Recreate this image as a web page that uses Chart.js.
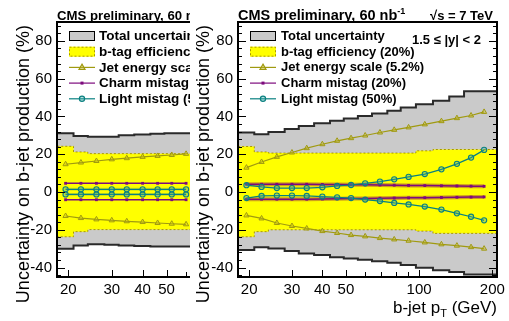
<!DOCTYPE html>
<html><head><meta charset="utf-8">
<script src="https://cdn.jsdelivr.net/npm/chart.js@4.4.0/dist/chart.umd.min.js"></script>
<style>
html,body{margin:0;padding:0;background:#fff;width:509px;height:321px;overflow:hidden}
#wrapL{position:absolute;left:0;top:0;width:200px;height:321px;background:#fff}
#wrapR{position:absolute;left:190px;top:0;width:319px;height:321px;background:#fff}
canvas{display:block}
</style></head><body>
<div id="wrapL"><canvas id="cL" width="200" height="321"></canvas></div>
<div id="wrapR"><canvas id="cR" width="319" height="321"></canvas></div>
<script>
// ---- data ----
const binEdges   = [18,21,24,28,32,37,43,49,56,64,74,84,97,114,133,153,174,220];
const binCenters = [19.5,22.5,26,30,34.5,40,46,52.5,60,69,79,90.5,105.5,123.5,143,163.5,185];
const yTicks = [-40,-20,0,20,40,60,80];
const xTicksLeft  = [20,30,40,50];
const xTicksRight = [20,30,40,50,100,200];
const xTickMarks  = [20,30,40,50,60,70,80,90,100,200];
const legendLabels = ['Total uncertainty','b-tag efficiency (20%)','Jet energy scale (5.2%)','Charm mistag (20%)','Light mistag (50%)'];

// left panel (first 9 bins)
const totalUpL   = [34.2,31.1,29.7,29.2,29.3,30.0,30.4,30.8,31.1];
const totalDownL = [-33.0,-30.0,-28.3,-27.7,-27.9,-28.3,-28.6,-28.8,-28.8];
const btagUpL    = [28.3,24.2,21.2,20.3,20.3,20.3,20.3,20.3,20.3];
const btagDownL  = [-28.1,-23.7,-21.0,-19.9,-19.9,-19.9,-19.9,-19.9,-19.9];
const jesUpL     = [14.7,15.6,16.4,17.3,17.9,18.6,19.1,19.6,20.2];
const jesDownL   = [-12.7,-13.8,-14.5,-15.0,-15.5,-15.9,-16.4,-16.8,-17.1];
const charmUpL   = [4.6,4.6,4.6,4.6,4.6,4.6,4.6,4.6,4.6];
const charmDownL = [-4.1,-4.1,-4.1,-4.1,-4.1,-4.1,-4.1,-4.1,-4.1];
const lightUpL   = [1.4,1.4,1.4,1.4,1.4,1.4,1.4,1.4,1.4];
const lightDownL = [-1.3,-1.3,-1.3,-1.3,-1.3,-1.3,-1.3,-1.3,-1.3];

// right panel (17 bins)
const totalUpR   = [33.6,31.5,30.6,31.8,33.3,35.0,36.4,37.7,38.9,40.3,41.6,43.0,44.8,46.5,48.3,50.6,53.3];
const totalDownR = [-33.0,-30.7,-29.2,-29.9,-31.3,-32.5,-33.4,-34.5,-35.2,-35.9,-36.6,-37.5,-38.7,-40.1,-41.4,-42.4,-43.7];
const btagUpR    = [28.3,24.1,21.2,20.6,20.6,20.6,20.6,20.6,20.6,20.6,20.6,20.6,20.6,21.8,22.5,22.5,22.5];
const btagDownR  = [-28.1,-23.7,-21.0,-20.0,-20.0,-20.0,-20.0,-20.0,-20.0,-20.0,-20.0,-20.0,-20.0,-20.7,-21.9,-21.9,-21.9];
const jesUpR     = [12.9,15.9,18.6,20.9,23.2,25.3,27.1,28.5,29.9,31.5,32.9,34.2,35.8,37.5,39.1,40.5,42.4];
const jesDownR   = [-12.4,-14.0,-16.4,-18.0,-19.3,-20.7,-21.7,-22.8,-23.5,-24.4,-25.1,-25.8,-26.7,-27.7,-28.4,-29.2,-30.0];
const charmUpR   = [4.1,4.1,4.1,4.1,4.1,4.0,4.0,3.9,3.8,3.7,3.6,3.5,3.4,3.3,3.2,3.1,3.0];
const charmDownR = [-3.8,-3.8,-3.8,-3.8,-3.8,-3.7,-3.6,-3.5,-3.4,-3.3,-3.2,-3.1,-3.0,-2.9,-2.8,-2.7,-2.6];
const lightUpR   = [3.6,2.7,2.1,2.1,2.1,2.5,3.2,3.7,4.6,5.5,6.7,8.0,9.5,12.0,14.9,18.2,22.3];
const lightDownR = [-3.2,-2.1,-1.9,-1.9,-2.1,-2.4,-2.8,-3.2,-4.0,-4.8,-5.8,-6.6,-7.7,-9.3,-11.3,-13.1,-15.0];

// ---- styles ----
const GRAY='#cacaca', YEL='#ffff00', YELB='#a89800', OLIVE='#a09a10', PURP='#7d0a7d', TEAL='#0a8080';
const FONT='"Liberation Sans", Arial, Helvetica, sans-serif';

function stepPts(vals){
  const p = vals.map((v,i)=>({x:binEdges[i], y:v}));
  p.push({x:binEdges[vals.length], y:vals[vals.length-1]});
  return p;
}
function ptPts(vals){ return vals.map((v,i)=>({x:binCenters[i], y:v})); }

function buildDatasets(d){
  const base = {pointRadius:0, tension:0, spanGaps:true};
  const ds = [
    {...base, data:stepPts(d.totalUp), stepped:'after', borderColor:'#2a2a2a', borderWidth:2, backgroundColor:GRAY, fill:'+1', order:20},
    {...base, data:stepPts(d.totalDown), stepped:'after', borderColor:'#2a2a2a', borderWidth:2, fill:false, order:19},
    {...base, data:stepPts(d.btagUp), stepped:'after', borderColor:YELB, borderWidth:1, borderDash:[2,2], backgroundColor:YEL, fill:'+1', order:18},
    {...base, data:stepPts(d.btagDown), stepped:'after', borderColor:YELB, borderWidth:1, borderDash:[2,2], fill:false, order:17},
  ];
  const jes = {pointStyle:'triangle', pointRadius:3, pointBorderWidth:1, borderColor:OLIVE, pointBorderColor:OLIVE, pointBackgroundColor:'rgba(200,190,40,0.35)', borderWidth:1.2, fill:false, order:10};
  ds.push({...jes, data:ptPts(d.jesUp)}, {...jes, data:ptPts(d.jesDown)});
  if (d.charmHalo){
    const h = {pointRadius:0, borderColor:'rgba(185,120,40,0.7)', borderWidth:4, fill:false, order:8};
    ds.push({...h, data:ptPts(d.charmUp)}, {...h, data:ptPts(d.charmDown)});
  }
  if (d.lightHalo){
    const h = {pointRadius:0, borderColor:'rgba(120,180,60,0.35)', borderWidth:3, fill:false, order:8};
    ds.push({...h, data:ptPts(d.lightUp)}, {...h, data:ptPts(d.lightDown)});
  }
  const ch = {pointStyle:'rect', pointRadius:2, pointBorderWidth:0, borderColor:PURP, pointBackgroundColor:PURP, borderWidth:1.5, fill:false, order:6};
  ds.push({...ch, data:ptPts(d.charmUp)}, {...ch, data:ptPts(d.charmDown)});
  const li = {pointStyle:'circle', pointRadius:2.6, pointBorderWidth:1.1, borderColor:TEAL, pointBorderColor:TEAL, pointBackgroundColor:'rgba(60,170,170,0.35)', borderWidth:1.2, fill:false, order:4};
  ds.push({...li, data:ptPts(d.lightUp)}, {...li, data:ptPts(d.lightDown)});
  return ds;
}

function drawText(ctx, parts, x, y, align){
  let w = 0;
  parts.forEach(p=>{ctx.font=p.font; w+=ctx.measureText(p.t).width;});
  let cx = align==='right' ? x-w : x;
  parts.forEach(p=>{ctx.font=p.font; ctx.textAlign='left'; ctx.fillText(p.t, cx, y+(p.dy||0)); cx+=ctx.measureText(p.t).width;});
}

const deco = {
  id:'deco',
  afterDatasetsDraw(chart, args, o){
    const {ctx, chartArea:a, scales:{x,y}} = chart;
    ctx.save();
    ctx.strokeStyle='#000'; ctx.lineWidth=1;
    ctx.beginPath();
    for (let v=-44; v<=88; v+=4){
      const py = Math.round(y.getPixelForValue(v))+0.5;
      const len = (v%20===0)?8:4;
      ctx.moveTo(a.left,py); ctx.lineTo(a.left+len,py);
      if (o.rightTicks){ ctx.moveTo(a.right,py); ctx.lineTo(a.right-len,py); }
    }
    xTickMarks.forEach(v=>{
      const px = Math.round(x.getPixelForValue(v))+0.5;
      const len = o.xLabels.includes(v)?7:5;
      ctx.moveTo(px,a.bottom); ctx.lineTo(px,a.bottom-len);
    });
    ctx.stroke();
    ctx.lineWidth=2;
    ctx.strokeRect(a.left, a.top, a.right-a.left, a.bottom-a.top);
    ctx.restore();
  },
  afterDraw(chart, args, o){
    const {ctx, chartArea:a} = chart;
    const ts = o.titleSize, ls = o.legendSize;
    ctx.save();
    ctx.fillStyle='#000'; ctx.textBaseline='alphabetic';
    drawText(ctx,[{t:'CMS preliminary, 60 nb',font:'bold '+ts+'px '+FONT},{t:'-1',font:'bold 9px '+FONT,dy:-6}], a.left, 19.5,'left');
    if (o.extra){
      drawText(ctx,[{t:'\u221As = 7 TeV',font:'bold 13px '+FONT}], a.right-4, 19.5,'right');
      drawText(ctx,[{t:'1.5 \u2264 |y| < 2',font:'bold 13px '+FONT}], a.right-16, 44,'right');
      drawText(ctx,[{t:'b-jet p',font:'17px '+FONT},{t:'T',font:'11px '+FONT,dy:4},{t:' (GeV)',font:'17px '+FONT}], a.right, 313,'right');
    }
    ctx.save();
    ctx.translate(o.yTitleX, 25);
    ctx.rotate(-Math.PI/2);
    ctx.font='18px '+FONT; ctx.textAlign='right';
    ctx.fillText('Uncertainty on b-jet production (%)',0,0);
    ctx.restore();
    const bx0=a.left+12, bx1=a.left+38, tx=a.left+o.textOff;
    const rows=[36,51.7,67.4,83.1,98.8];
    ctx.font='bold '+ls+'px '+FONT; ctx.textBaseline='middle'; ctx.textAlign='left';
    legendLabels.forEach((lab,i)=>{
      const ry=rows[i];
      ctx.fillStyle='#000'; ctx.fillText(lab, tx, ry+0.5);
      ctx.save();
      if (i===0){
        ctx.fillStyle=GRAY; ctx.fillRect(bx0,ry-5,bx1-bx0,10);
        ctx.strokeStyle='#000'; ctx.lineWidth=1; ctx.strokeRect(bx0+0.5,ry-4.5,bx1-bx0-1,9);
      } else if (i===1){
        ctx.fillStyle=YEL; ctx.fillRect(bx0,ry-5,bx1-bx0,10);
        ctx.strokeStyle=YELB; ctx.setLineDash([2,2]); ctx.lineWidth=1; ctx.strokeRect(bx0+0.5,ry-4.5,bx1-bx0-1,9);
      } else {
        const col=[OLIVE,PURP,TEAL][i-2];
        ctx.strokeStyle=col; ctx.lineWidth=1.2;
        ctx.beginPath(); ctx.moveTo(bx0,ry); ctx.lineTo(bx1,ry); ctx.stroke();
        const mx=(bx0+bx1)/2;
        if (i===2){
          ctx.beginPath(); ctx.moveTo(mx,ry-3.3); ctx.lineTo(mx+3,ry+2); ctx.lineTo(mx-3,ry+2); ctx.closePath();
          ctx.fillStyle='rgba(200,190,40,0.35)'; ctx.fill(); ctx.stroke();
        } else if (i===3){
          ctx.fillStyle=PURP; ctx.fillRect(mx-1.5,ry-1.5,3,3);
        } else {
          ctx.beginPath(); ctx.arc(mx,ry,2.6,0,Math.PI*2); ctx.fillStyle='rgba(60,170,170,0.35)'; ctx.fill(); ctx.stroke();
        }
      }
      ctx.restore();
    });
    ctx.restore();
  }
};

function makeChart(id, d){
  return new Chart(document.getElementById(id), {
    type:'line',
    data:{datasets:buildDatasets(d)},
    plugins:[deco],
    options:{
      responsive:false, animation:false, devicePixelRatio:1,
      layout:{padding:{top:22, right:d.padRight, left:0, bottom:0}},
      plugins:{legend:{display:false}, tooltip:{enabled:false}, filler:{drawTime:'beforeDatasetDraw'},
        deco:{rightTicks:d.rightTicks, xLabels:d.xTicks, extra:d.extra, yTitleX:d.yTitleX, titleSize:d.titleSize, legendSize:d.legendSize, textOff:d.textOff}},
      scales:{
        x:{type:'logarithmic', min:18, max:d.xMax,
          grid:{display:false, drawTicks:false}, border:{display:false},
          afterBuildTicks:s=>{s.ticks=d.xTicks.map(v=>({value:v}));},
          afterFit:s=>{s.height=44;},
          ticks:{autoSkip:false, maxRotation:0, padding:4, color:'#000', font:{family:FONT,size:15}, callback:v=>String(v)}},
        y:{type:'linear', min:-45, max:90,
          grid:{display:false, drawTicks:false}, border:{display:false},
          afterBuildTicks:s=>{s.ticks=yTicks.map(v=>({value:v}));},
          afterFit:s=>{s.width=d.yWidth;},
          ticks:{padding:5, color:'#000', font:{family:FONT,size:15}, callback:v=>String(v)}}
      }
    }
  });
}

makeChart('cL', {totalUp:totalUpL,totalDown:totalDownL,btagUp:btagUpL,btagDown:btagDownL,jesUp:jesUpL,jesDown:jesDownL,
  charmUp:charmUpL,charmDown:charmDownL,lightUp:lightUpL,lightDown:lightDownL, lightHalo:true,
  xMax:64, xTicks:xTicksLeft, yWidth:57, padRight:7, rightTicks:false, extra:false, yTitleX:29, titleSize:13.2, legendSize:13.5, textOff:42});
makeChart('cR', {totalUp:totalUpR,totalDown:totalDownR,btagUp:btagUpR,btagDown:btagDownR,jesUp:jesUpR,jesDown:jesDownR,
  charmUp:charmUpR,charmDown:charmDownR,lightUp:lightUpR,lightDown:lightDownR, charmHalo:true,
  xMax:209, xTicks:xTicksRight, yWidth:48, padRight:8, rightTicks:true, extra:true, yTitleX:19, titleSize:14.5, legendSize:13, textOff:43});
</script>
</body></html>
